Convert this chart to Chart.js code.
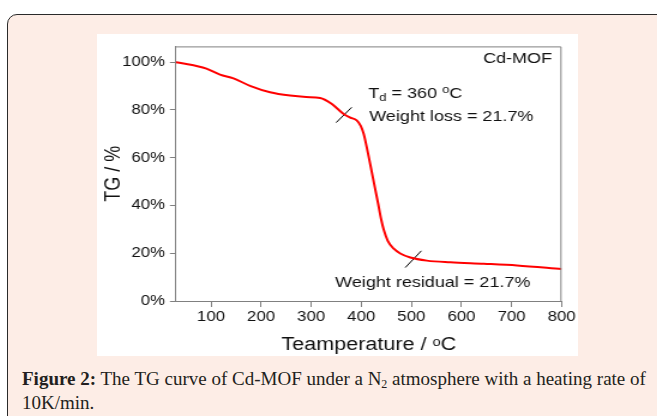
<!DOCTYPE html>
<html>
<head>
<meta charset="utf-8">
<script src="https://cdn.jsdelivr.net/npm/chart.js@4.4.0/dist/chart.umd.min.js"></script>
<style>
  html, body { margin: 0; padding: 0; background: #fff; }
  body { width: 657px; height: 416px; position: relative; overflow: hidden; }
  .box {
    position: absolute; left: 7px; top: 14px; width: 700px; height: 440px;
    border: 1.5px solid #2a2a2a; border-radius: 10px; background: #fdede6;
  }
  #c { position: absolute; left: 97px; top: 34px; background: #fff; }
  .cap {
    position: absolute; left: 22px; top: 367px;
    font-family: "Liberation Serif", "Times New Roman", serif;
    font-size: 19px; line-height: 24px; color: #231f20; white-space: nowrap;
  }
  .cap sub { font-size: 12px; vertical-align: -3px; line-height: 0; }
</style>
</head>
<body>
<div class="box"></div>
<canvas id="c" width="401" height="322" style="width:481px;height:322px"></canvas>
<div class="cap"><b>Figure 2:</b> The TG curve of Cd-MOF under a N<sub>2</sub> atmosphere with a heating rate of<br>10K/min.</div>
<script>
// TG curve (temperature in degC, remaining weight in %)
const temps   = [30, 51, 71, 91, 118, 145, 178, 218, 258, 290, 318, 340, 352, 365, 378, 391, 399, 405, 411, 419, 427, 434, 440, 445, 453, 465, 478, 498, 531, 578, 645, 711, 800];
const weights = [100, 99.2, 98.4, 97.3, 94.8, 93.2, 90.1, 87.4, 86.0, 85.4, 85.0, 82.7, 80.6, 78.3, 76.8, 75.6, 73.3, 69.9, 64.4, 56.2, 47.8, 40.5, 34.0, 29.8, 25.2, 21.9, 19.9, 18.2, 16.9, 16.2, 15.6, 14.9, 13.4];

// short slash marks on the curve
const onsetT = [350, 381];
const onsetW = [74.7, 81.1];
const residT = [488, 520];
const residW = [14.0, 21.0];

const xTicks = [100, 200, 300, 400, 500, 600, 700, 800];
const yTicks = [0, 20, 40, 60, 80, 100];

const FONT = '"Liberation Sans", Arial, "DejaVu Sans", sans-serif';
Chart.defaults.font.family = FONT;

const pts = (xs, ys) => xs.map((x, i) => ({x: x, y: ys[i]}));

// top/right frame of the plot
const frame = {
  id: 'frame',
  afterDraw(chart) {
    const {ctx, chartArea: a} = chart;
    ctx.save();
    ctx.strokeStyle = '#808080';
    ctx.lineWidth = 1;
    ctx.beginPath();
    ctx.moveTo(a.left, a.top + 0.5);
    ctx.lineTo(a.right - 0.5, a.top + 0.5);
    ctx.lineTo(a.right - 0.5, a.bottom);
    ctx.stroke();
    ctx.restore();
  }
};

// text labels inside the plot, anchored in data units
const notes = {
  id: 'notes',
  afterDatasetsDraw(chart) {
    const {ctx} = chart;
    const xs = chart.scales.x, ys = chart.scales.y;
    const run = (parts, t, w) => {
      let x = xs.getPixelForValue(t);
      const y = ys.getPixelForValue(w);
      parts.forEach(p => {
        ctx.font = p[1] + 'px ' + FONT;
        ctx.fillText(p[0], x, y + p[2]);
        x += ctx.measureText(p[0]).width;
      });
    };
    ctx.save();
    ctx.fillStyle = '#111';
    ctx.textBaseline = 'middle';
    ctx.textAlign = 'right';
    ctx.font = '15px ' + FONT;
    ctx.fillText('Cd-MOF', xs.getPixelForValue(781), ys.getPixelForValue(101.5));
    ctx.textAlign = 'left';
    run([['T', 15, 0], ['d', 11, 4], [' = 360 ', 15, 0], ['o', 11, -4], ['C', 15, 0]], 414, 86.7);
    run([['Weight loss = 21.7%', 15, 0]], 416, 76.9);
    run([['Weight residual = 21.7%', 15, 0]], 348, 7.6);
    ctx.restore();
  }
};

new Chart(document.getElementById('c'), {
  type: 'line',
  data: {
    datasets: [
      {data: pts(temps, weights), borderColor: '#ff0000', borderWidth: 2, pointRadius: 0, cubicInterpolationMode: 'monotone', fill: false},
      {data: pts(onsetT, onsetW), borderColor: '#000', borderWidth: 1, pointRadius: 0, tension: 0},
      {data: pts(residT, residW), borderColor: '#000', borderWidth: 1, pointRadius: 0, tension: 0}
    ]
  },
  options: {
    responsive: false,
    animation: false,
    devicePixelRatio: 1,
    layout: {padding: {top: 6.6, right: 13.5, left: 0, bottom: 0}},
    plugins: {legend: {display: false}, tooltip: {enabled: false}},
    scales: {
      x: {
        type: 'linear', min: 30, max: 800,
        afterBuildTicks: s => { s.ticks = xTicks.map(v => ({value: v})); },
        afterFit: s => { s.height = 55; },
        ticks: {font: {size: 14}, color: '#111', padding: 2, maxRotation: 0, autoSkip: false},
        grid: {drawOnChartArea: false, tickLength: 6, color: '#808080', lineWidth: 1},
        border: {color: '#808080', width: 1},
        title: {display: true, text: 'Teamperature / ᵒC', font: {size: 18}, color: '#111', padding: {top: 0, bottom: 0}}
      },
      y: {
        min: 0, max: 106.6,
        afterBuildTicks: s => { s.ticks = yTicks.map(v => ({value: v})); },
        afterFit: s => { s.width = 65.8; },
        ticks: {font: {size: 14}, color: '#111', padding: 4, callback: v => v + '%'},
        grid: {drawOnChartArea: false, tickLength: 5, color: '#808080', lineWidth: 1},
        border: {color: '#808080', width: 1},
        title: {display: true, text: 'TG / %', font: {size: 18}, color: '#111', padding: {top: 3, bottom: 0}}
      }
    }
  },
  plugins: [frame, notes]
});
</script>
</body>
</html>
